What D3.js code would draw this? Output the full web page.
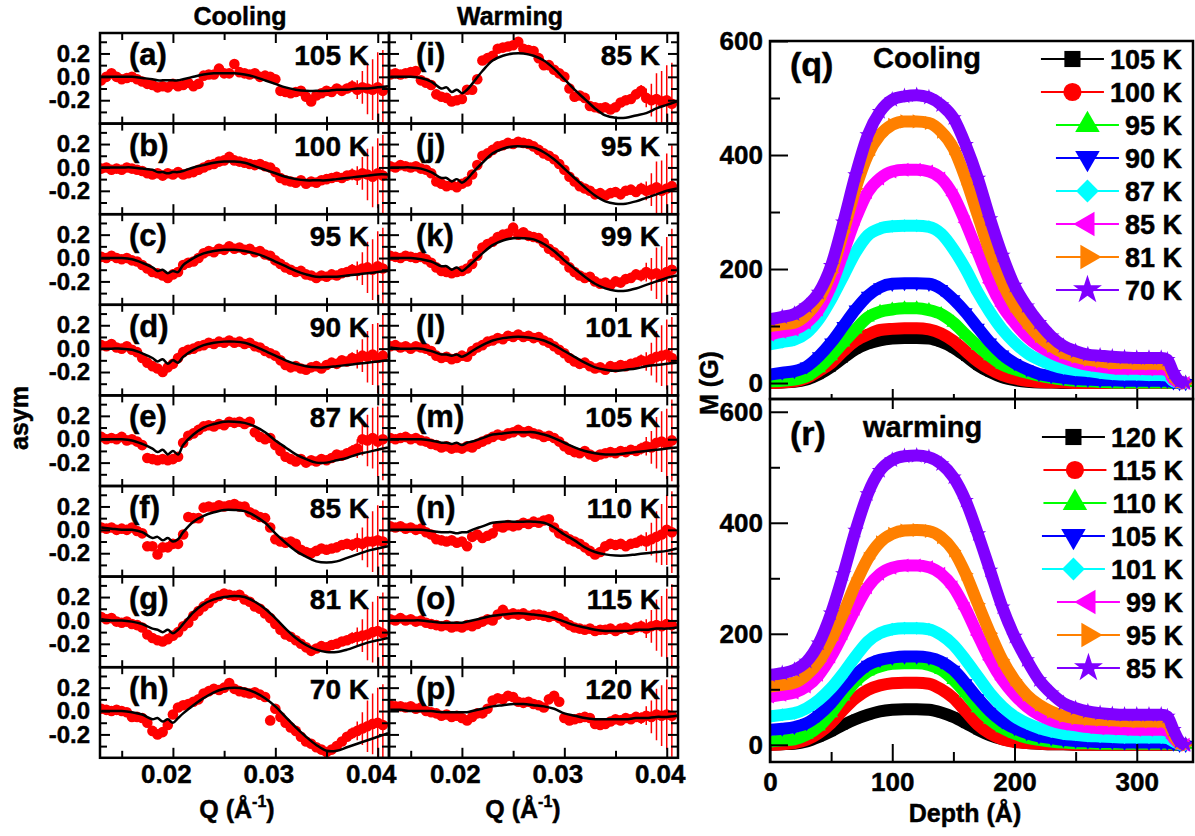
<!DOCTYPE html>
<html>
<head>
<meta charset="utf-8">
<script src="https://cdn.jsdelivr.net/npm/d3@7"></script>
<style>
body { margin: 0; background: #fff; }
svg text { font-family: "Liberation Sans", Arial, sans-serif; font-weight: bold; stroke: #000; stroke-width: 0.45px; }
</style>
</head>
<body>
<script>
// Q grid of the reflectivity points and of the fit curves
var qData = [0.0130,0.0135,0.0140,0.0145,0.0150,0.0155,0.0160,0.0165,0.0170,0.0175,
  0.0180,0.0185,0.0190,0.0195,0.0200,0.0205,0.0210,0.0215,0.0220,0.0225,
  0.0230,0.0235,0.0240,0.0245,0.0250,0.0255,0.0260,0.0265,0.0270,0.0275,
  0.0280,0.0285,0.0290,0.0295,0.0300,0.0305,0.0310,0.0315,0.0320,0.0325,
  0.0330,0.0335,0.0340,0.0345,0.0350,0.0355,0.0360,0.0365,0.0370,0.0375,
  0.0380,0.0385,0.0390,0.0395,0.0400,0.0405];
var qFit = [0.013,0.014,0.015,0.016,0.017,0.018,0.0185,0.019,0.0195,0.020,0.0205,0.021,
  0.022,0.023,0.024,0.025,0.026,0.027,0.028,0.029,0.030,0.031,
  0.032,0.033,0.034,0.035,0.036,0.037,0.038,0.039,0.040,0.041];
var errBar = [0.02,0.02,0.02,0.02,0.02,0.02,0.02,0.02,0.02,0.02,0.02,0.02,0.02,0.02,0.02,0.02,
  0.02,0.02,0.02,0.02,0.02,0.02,0.02,0.02,0.02,0.02,0.02,0.02,0.02,0.02,0.02,0.02,
  0.02,0.02,0.02,0.02,0.02,0.02,0.02,0.02,0.02,0.02,0.02,0.02,0.02,0.02,
  0.03,0.03,0.04,0.05,0.08,0.14,0.22,0.26,0.30,0.35];

// cooling
var asymA = [-0.03,0.00,0.03,0.00,-0.02,-0.01,0.00,-0.02,-0.04, -0.06,-0.07,-0.09,-0.08,-0.09,-0.06,-0.08,-0.07,-0.05,-0.08,-0.06,
  0.01,0.02,0.02,0.07,0.03, 0.03,0.11,0.04,0.03,0.02,0.03,0.00,0.01,0.00,
  -0.02,-0.12,-0.13,-0.14,-0.13,-0.12,-0.17,-0.21,-0.16,-0.14,-0.12, -0.13,-0.10,-0.12,-0.10,-0.08,-0.11,-0.09,-0.10,-0.11,-0.09,-0.12];
var fitA = [0.00,0.00,0.00,0.00,-0.01,-0.02, -0.03,-0.03,-0.03,-0.03,-0.03,-0.02,
  0.00,0.02,0.03,0.03,0.03,0.02,0.00,-0.03,-0.06,-0.09,-0.11,-0.12,-0.12,-0.12,-0.11,-0.11,-0.10,-0.10,-0.09,-0.08];
var asymB = [-0.01,0.00,-0.02,-0.01,-0.02,0.00,-0.01,-0.02,-0.03, -0.05,-0.06,-0.05,-0.07,-0.05,-0.06,-0.04,-0.06,-0.05,-0.04,-0.02,
  0.00,0.02,0.03,0.05,0.06, 0.09,0.06,0.05,0.04,0.03,0.02,0.03,0.01,0.00,
  -0.04,-0.09,-0.11,-0.12,-0.13,-0.11,-0.14,-0.12,-0.13,-0.11,-0.10, -0.09,-0.08,-0.09,-0.07,-0.06,-0.07,-0.05,-0.06,-0.08,-0.05,-0.07];
var fitB = [0.00,0.00,0.00,0.00,-0.01,-0.02, -0.04,-0.04,-0.05,-0.04,-0.04,-0.03,
  0.00,0.02,0.04,0.05,0.05,0.04,0.01,-0.02,-0.05,-0.08,-0.10,-0.11,-0.11,-0.11,-0.10,-0.09,-0.08,-0.07,-0.06,-0.06];
var asymC = [0.01,0.00,0.02,0.00,-0.01,0.00,-0.02,-0.03,-0.06, -0.09,-0.12,-0.13,-0.15,-0.17,-0.14,-0.12,-0.06,-0.04,-0.03,0.00,
  0.04,0.06,0.05,0.08,0.07, 0.10,0.08,0.09,0.07,0.08,0.05,0.06,0.03,0.02,
  -0.02,-0.05,-0.08,-0.10,-0.12,-0.11,-0.14,-0.15,-0.17,-0.15,-0.16, -0.14,-0.15,-0.13,-0.12,-0.10,-0.11,-0.09,-0.08,-0.10,-0.07,-0.09];
var fitC = [0.00,0.00,0.00,-0.01,-0.04,-0.08, -0.11,-0.10,-0.13,-0.11,-0.12,-0.06,
  0.00,0.04,0.06,0.07,0.07,0.06,0.04,0.01,-0.03,-0.07,-0.11,-0.14,-0.16,-0.16,-0.16,-0.15,-0.14,-0.13,-0.12,-0.11];
var asymD = [0.03,0.02,0.04,0.01,0.00,0.02,-0.01,-0.03,-0.08, -0.12,-0.15,-0.17,-0.20,-0.16,-0.13,-0.08,-0.03,-0.01,0.00,0.02,
  0.03,0.05,0.04,0.06,0.05, 0.07,0.05,0.06,0.04,0.05,0.02,0.01,-0.02,-0.04,
  -0.06,-0.10,-0.14,-0.16,-0.15,-0.17,-0.18,-0.16,-0.15,-0.17,-0.14, -0.12,-0.13,-0.10,-0.11,-0.08,-0.09,-0.06,-0.07,-0.05,-0.08,-0.06];
var fitD = [0.00,0.00,0.00,-0.01,-0.04,-0.08, -0.11,-0.09,-0.13,-0.10,-0.12,-0.07,
  -0.01,0.03,0.05,0.06,0.06,0.05,0.02,-0.02,-0.06,-0.10,-0.13,-0.15,-0.16,-0.16,-0.15,-0.14,-0.13,-0.12,-0.11,-0.10];
var asymE = [0.02,0.00,0.01,0.00,0.02,-0.01,0.00,-0.02,-0.05, -0.16,-0.17,-0.18,-0.17,-0.18,-0.17,-0.15,-0.03,0.03,0.05,0.08,
  0.11,0.12,0.11,0.13,0.12, 0.15,0.14,0.15,0.13,0.15,0.06,0.02,0.00,0.01,
  -0.05,-0.10,-0.15,-0.17,-0.19,-0.17,-0.20,-0.18,-0.19,-0.17,-0.18, -0.16,-0.13,-0.14,-0.12,-0.10,-0.08,0.00,-0.01,0.01,-0.02,0.00];
var fitE = [0.00,0.00,0.00,-0.01,-0.04,-0.08, -0.11,-0.09,-0.13,-0.10,-0.13,-0.05,
  0.04,0.10,0.13,0.15,0.15,0.14,0.11,0.06,-0.01,-0.07,-0.13,-0.17,-0.20,-0.20,-0.18,-0.16,-0.13,-0.11,-0.09,-0.07];
var asymF = [0.02,0.01,0.02,0.00,0.01,0.00,0.02,-0.01,-0.03, -0.14,-0.14,-0.21,-0.15,-0.15,-0.12,-0.12,-0.04,0.11,0.10,0.10,
  0.19,0.20,0.19,0.21,0.20, 0.21,0.22,0.20,0.20,0.15,0.13,0.11,0.10,0.02,
  -0.08,-0.10,-0.11,-0.10,-0.12,-0.17,-0.19,-0.20,-0.18,-0.16,-0.17, -0.16,-0.15,-0.13,-0.12,-0.13,-0.11,-0.12,-0.10,-0.10,-0.09,-0.10];
var fitF = [0.02,0.01,0.00,0.00,-0.02,-0.07, -0.06,-0.09,-0.07,-0.10,-0.08,-0.02,
  0.07,0.12,0.15,0.17,0.17,0.16,0.12,0.06,-0.03,-0.11,-0.18,-0.23,-0.27,-0.28,-0.27,-0.24,-0.21,-0.18,-0.16,-0.14];
var asymG = [0.03,0.01,0.02,-0.01,-0.02,-0.01,-0.03,-0.04,-0.06, -0.12,-0.15,-0.17,-0.18,-0.16,-0.13,-0.10,-0.05,-0.02,0.04,0.08,
  0.12,0.15,0.19,0.21,0.23, 0.22,0.21,0.22,0.18,0.16,0.12,0.10,0.06,0.02,
  -0.03,-0.08,-0.12,-0.14,-0.17,-0.20,-0.23,-0.26,-0.24,-0.22,-0.23, -0.21,-0.20,-0.18,-0.17,-0.15,-0.14,-0.13,-0.12,-0.10,-0.09,-0.11];
var fitG = [0.01,0.00,0.00,-0.01,-0.03,-0.07, -0.08,-0.10,-0.08,-0.11,-0.08,-0.03,
  0.07,0.14,0.18,0.20,0.21,0.20,0.16,0.10,0.02,-0.07,-0.15,-0.21,-0.25,-0.27,-0.27,-0.25,-0.22,-0.19,-0.17,-0.15];
var asymH = [0.02,0.01,0.00,0.01,0.00,-0.01,-0.05,-0.05,-0.06, -0.10,-0.17,-0.20,-0.18,-0.12,-0.03,0.03,0.05,0.06,0.08,0.10,
  0.15,0.17,0.19,0.18,0.20, 0.24,0.19,0.17,0.16,0.15,0.16,0.14,0.12,-0.08,
  0.02,-0.05,-0.10,-0.14,-0.17,-0.22,-0.26,-0.28,-0.31,-0.33,-0.35, -0.33,-0.30,-0.26,-0.22,-0.19,-0.17,-0.15,-0.13,-0.11,-0.10,-0.12];
var fitH = [0.00,0.00,0.00,-0.01,-0.03,-0.07, -0.06,-0.09,-0.07,-0.10,-0.06,-0.02,
  0.05,0.11,0.16,0.19,0.20,0.19,0.16,0.11,0.04,-0.05,-0.14,-0.22,-0.29,-0.34,-0.34,-0.31,-0.28,-0.25,-0.22,-0.19];

// warming
var asymI = [0.02,0.03,0.02,0.03,0.04,0.05,-0.03,-0.05,-0.07, -0.15,-0.17,-0.18,-0.21,-0.20,-0.19,-0.11,-0.11,-0.02,0.14,0.16,
  0.18,0.24,0.25,0.26,0.27, 0.30,0.24,0.23,0.22,0.16,0.10,0.10,0.06,0.03,
  0.00,-0.10,-0.17,-0.16,-0.18,-0.25,-0.26,-0.27,-0.26,-0.28,-0.26, -0.22,-0.20,-0.19,-0.15,-0.12,-0.18,-0.20,-0.19,-0.21,-0.20,-0.23];
var fitI = [0.00,0.00,0.00,-0.01,-0.04,-0.10, -0.09,-0.13,-0.11,-0.14,-0.11,-0.06,
  0.05,0.14,0.18,0.20,0.20,0.18,0.14,0.07,-0.02,-0.11,-0.19,-0.27,-0.33,-0.35,-0.35,-0.33,-0.31,-0.27,-0.24,-0.21];
var asymJ = [0.01,0.00,0.02,0.01,0.00,0.01,-0.01,-0.02,-0.05, -0.12,-0.14,-0.16,-0.15,-0.17,-0.14,-0.12,-0.06,0.02,0.10,0.12,
  0.15,0.18,0.19,0.21,0.20, 0.22,0.21,0.20,0.18,0.15,0.12,0.10,0.07,0.03,
  -0.02,-0.08,-0.12,-0.16,-0.18,-0.20,-0.23,-0.22,-0.24,-0.22,-0.21, -0.23,-0.20,-0.19,-0.21,-0.18,-0.20,-0.19,-0.17,-0.20,-0.18,-0.16];
var fitJ = [0.00,0.00,0.00,-0.01,-0.04,-0.09, -0.09,-0.12,-0.10,-0.13,-0.10,-0.05,
  0.04,0.12,0.16,0.18,0.18,0.17,0.13,0.07,-0.01,-0.09,-0.17,-0.24,-0.29,-0.31,-0.31,-0.29,-0.26,-0.23,-0.20,-0.18];
var asymK = [0.02,0.01,0.00,0.02,0.01,0.00,0.01,-0.01,-0.04, -0.08,-0.11,-0.12,-0.13,-0.12,-0.11,-0.09,-0.05,0.02,0.09,0.12,
  0.14,0.18,0.20,0.21,0.26, 0.20,0.22,0.19,0.18,0.17,0.13,0.08,0.05,0.02,
  -0.02,-0.08,-0.12,-0.15,-0.17,-0.16,-0.20,-0.22,-0.21,-0.23,-0.20, -0.21,-0.18,-0.17,-0.14,-0.15,-0.12,-0.14,-0.13,-0.16,-0.12,-0.10];
var fitK = [0.00,0.00,0.00,-0.01,-0.03,-0.07, -0.07,-0.10,-0.08,-0.11,-0.08,-0.04,
  0.04,0.11,0.15,0.17,0.17,0.16,0.12,0.06,-0.02,-0.09,-0.16,-0.22,-0.26,-0.28,-0.28,-0.26,-0.23,-0.20,-0.17,-0.15];
var asymL = [0.02,0.03,0.01,0.02,0.00,0.02,0.01,0.00,-0.02, -0.06,-0.08,-0.07,-0.09,-0.08,-0.06,-0.07,-0.02,0.01,0.03,0.06,
  0.07,0.09,0.08,0.11,0.10, 0.12,0.10,0.11,0.09,0.10,0.07,0.05,0.02,-0.01,
  -0.04,-0.08,-0.11,-0.13,-0.12,-0.15,-0.17,-0.16,-0.18,-0.15,-0.16, -0.14,-0.15,-0.13,-0.12,-0.10,-0.11,-0.09,-0.07,-0.06,-0.05,-0.08];
var fitL = [0.01,0.00,0.00,0.00,-0.02,-0.05, -0.05,-0.06,-0.05,-0.07,-0.05,-0.02,
  0.03,0.07,0.09,0.10,0.10,0.09,0.07,0.03,-0.02,-0.07,-0.12,-0.16,-0.18,-0.19,-0.18,-0.17,-0.15,-0.14,-0.13,-0.12];
var asymM = [0.01,0.00,0.01,0.02,0.00,0.01,-0.01,-0.02,-0.04, -0.05,-0.07,-0.06,-0.08,-0.07,-0.08,-0.06,-0.07,-0.04,-0.02,0.00,
  0.02,0.04,0.03,0.05,0.06, 0.08,0.06,0.07,0.05,0.04,0.02,0.03,0.01,-0.02,
  -0.06,-0.09,-0.11,-0.12,-0.10,-0.13,-0.15,-0.13,-0.12,-0.11,-0.12, -0.10,-0.11,-0.09,-0.10,-0.08,-0.06,-0.07,-0.03,-0.02,-0.04,-0.01];
var fitM = [0.00,0.00,0.00,0.00,-0.01,-0.03, -0.03,-0.04,-0.03,-0.05,-0.03,-0.02,
  0.01,0.04,0.05,0.06,0.06,0.06,0.04,0.01,-0.03,-0.07,-0.10,-0.12,-0.13,-0.13,-0.12,-0.11,-0.10,-0.09,-0.08,-0.07];
var asymN = [0.03,0.02,0.03,0.01,0.02,0.00,0.01,-0.02,-0.04, -0.08,-0.09,-0.10,-0.09,-0.11,-0.10,-0.14,-0.06,-0.04,-0.07,-0.05,
  -0.03,0.03,0.02,0.04,0.03, 0.04,0.06,0.05,0.07,0.06,0.08,0.09,0.02,-0.03,
  -0.05,-0.08,-0.10,-0.12,-0.15,-0.18,-0.21,-0.19,-0.14,-0.12,-0.13, -0.12,-0.14,-0.12,-0.11,-0.09,-0.10,-0.08,-0.06,-0.04,0.00,-0.02];
var fitN = [0.00,0.00,0.00,0.00,-0.01,-0.02, -0.02,-0.02,-0.03,-0.02,-0.02,0.00,
  0.03,0.06,0.07,0.07,0.07,0.07,0.06,0.02,-0.04,-0.09,-0.15,-0.19,-0.21,-0.22,-0.22,-0.21,-0.20,-0.19,-0.18,-0.16];
var asymO = [0.01,0.00,0.02,0.00,0.01,-0.01,0.00,-0.02,-0.03, -0.04,-0.05,-0.04,-0.06,-0.05,-0.06,-0.04,-0.05,-0.03,-0.01,0.01,
  0.00,0.05,0.09,0.05,0.06, 0.05,0.06,0.04,0.05,0.05,0.04,0.03,0.04,0.02,
  -0.01,-0.04,-0.06,-0.07,-0.08,-0.07,-0.09,-0.08,-0.08,-0.07,-0.09, -0.07,-0.06,-0.08,-0.06,-0.05,-0.07,-0.05,-0.04,-0.05,-0.03,-0.04];
var fitO = [0.00,0.00,0.00,0.00,-0.01,-0.02, -0.02,-0.02,-0.02,-0.02,-0.01,0.00,
  0.02,0.04,0.05,0.06,0.06,0.05,0.04,0.02,-0.01,-0.04,-0.06,-0.08,-0.09,-0.09,-0.09,-0.08,-0.08,-0.07,-0.07,-0.06];
var asymP = [0.05,0.04,0.04,0.03,0.04,0.02,0.03,0.00,-0.01, -0.02,-0.04,-0.03,-0.05,-0.04,-0.06,-0.08,-0.05,-0.02,-0.02,0.02,
  0.09,0.11,0.10,0.13,0.12, 0.08,0.07,0.08,0.06,0.05,0.03,0.10,0.13,0.08,
  -0.06,-0.08,-0.07,-0.06,-0.05,-0.06,-0.11,-0.12,-0.11,-0.09,-0.07, -0.08,-0.06,-0.07,-0.05,-0.06,-0.04,-0.05,-0.03,-0.04,-0.03,-0.04];
var fitP = [0.01,0.01,0.00,0.00,0.00,-0.01, -0.01,-0.01,-0.01,-0.01,-0.01,0.00,
  0.02,0.04,0.05,0.06,0.06,0.05,0.04,0.02,-0.02,-0.04,-0.06,-0.07,-0.07,-0.07,-0.07,-0.06,-0.06,-0.05,-0.05,-0.04];

var coolTemps = ["105 K", "100 K", "95 K", "90 K", "87 K", "85 K", "81 K", "70 K"];
var warmTemps = ["85 K", "95 K", "99 K", "101 K", "105 K", "110 K", "115 K", "120 K"];

// magnetisation depth profiles
var depth = [0,10,20,30,40,50,60,70,80,90,100,110,120,130,140,150,160,170,180,190,
  200,210,220,230,240,250,260,270,280,290,300,310,320,325,330,335,340];
var mC105 = [0,1,2,6,15,28,44,59,69,75,78,79,79,78,72,62,47,31,19,10,5,2,1,1,0,0,0,0,0,0,0,0,0,0,0,0,0];
var mC100 = [0,1,3,9,21,35,56,74,85,93,95,96,96,94,87,74,56,38,24,14,8,4,2,1,1,0,0,0,0,0,0,0,0,0,0,0,0];
var mC95 = [3,4,6,12,26,47,71,94,115,125,129,131,131,128,121,106,85,65,47,32,24,18,13,9,6,4,3,2,1,1,1,1,1,1,0,0,0];
var mC90 = [15,18,21,29,47,71,100,129,153,168,174,175,175,174,165,147,124,97,71,50,35,24,16,12,9,7,6,5,5,4,4,4,4,4,1,0,0];
var mC87 = [68,72,76,88,112,147,188,229,259,271,275,276,276,274,262,235,200,159,124,94,71,53,41,32,26,23,21,18,16,15,15,14,14,13,3,1,0];
var mC85 = [85,90,94,106,129,171,229,288,335,359,371,374,374,371,359,329,282,229,176,135,106,82,65,53,44,37,32,29,26,25,25,24,24,23,6,1,0];
var mC81 = [100,103,106,120,147,194,265,341,400,435,453,459,459,456,441,412,359,294,229,176,135,106,82,65,53,46,41,38,35,35,34,34,34,33,12,2,0];
var mC70 = [112,116,121,135,159,206,282,365,435,476,497,503,505,501,488,465,418,359,288,224,171,135,106,82,65,56,50,48,46,45,44,44,44,41,18,3,0];
var mW120 = [0,1,2,6,14,24,36,46,54,60,63,64,64,63,58,50,39,27,17,10,6,3,2,1,1,0,0,0,0,0,0,0,0,0,0,0,0];
var mW115 = [0,1,3,9,21,39,63,84,99,107,111,112,112,110,100,84,60,36,20,10,5,3,2,1,1,0,0,0,0,0,0,0,0,0,0,0,0];
var mW110 = [6,8,10,18,33,57,87,114,132,141,146,147,147,144,135,117,93,66,45,30,20,13,9,6,4,3,3,2,2,2,2,2,2,2,1,0,0];
var mW105 = [27,29,32,39,54,75,102,126,144,153,157,159,159,157,150,135,111,84,60,42,30,21,15,12,9,7,6,5,5,4,4,4,4,4,2,0,0];
var mW101 = [51,54,57,66,81,102,129,159,186,201,208,210,210,208,198,180,153,123,93,69,51,39,30,24,20,18,16,15,14,13,13,13,13,12,6,1,0];
var mW99 = [87,90,94,105,126,159,201,245,284,308,319,323,323,320,308,284,245,198,153,117,90,69,54,44,38,35,32,30,29,28,27,27,27,26,12,2,0];
var mW95 = [105,108,112,126,150,189,237,290,335,365,380,386,387,385,374,350,308,254,201,153,117,90,72,60,52,48,46,45,44,43,42,42,42,41,18,3,0];
var mW85 = [126,129,135,150,183,237,308,386,452,494,513,520,521,518,506,482,440,380,314,248,195,153,117,93,75,66,60,57,55,54,54,54,54,51,27,6,0];

var coolLegend = ["105 K", "100 K", "95 K", "90 K", "87 K", "85 K", "81 K", "70 K"];
var warmLegend = ["120 K", "115 K", "110 K", "105 K", "101 K", "99 K", "95 K", "85 K"];

var colors = ["#000000", "#ff0000", "#00ff00", "#0000ff", "#00ffff", "#ff00ff", "#ff8000", "#8000ff"];
var symbols = [
    {type: d3.symbolSquare, rot: 0},
    {type: d3.symbolCircle, rot: 0},
    {type: d3.symbolTriangle, rot: 0},
    {type: d3.symbolTriangle, rot: 180},
    {type: d3.symbolSquare, rot: 45},
    {type: d3.symbolTriangle, rot: -90},
    {type: d3.symbolTriangle, rot: 90},
    {type: d3.symbolStar, rot: 0}
];

var width = 1195, height = 836;

var svg = d3.select("body").append("svg")
    .attr("width", width)
    .attr("height", height);

function cleanAxis(g, size) {
    g.select(".domain").remove();
    g.selectAll("line").attr("stroke", "#000").attr("stroke-width", 2);
    g.attr("font-size", size).attr("fill", "#000");
    g.selectAll("text").attr("fill", "#000");
}

// ---------- left: reflectivity asymmetry panels ----------
var colX = [[100, 389], [389, 678]];
var panelTop = 33, panelH = 90.6;

var coolPanels = [
    {tag: "(a)", data: asymA, fit: fitA}, {tag: "(b)", data: asymB, fit: fitB},
    {tag: "(c)", data: asymC, fit: fitC}, {tag: "(d)", data: asymD, fit: fitD},
    {tag: "(e)", data: asymE, fit: fitE}, {tag: "(f)", data: asymF, fit: fitF},
    {tag: "(g)", data: asymG, fit: fitG}, {tag: "(h)", data: asymH, fit: fitH}
];
var warmPanels = [
    {tag: "(i)", data: asymI, fit: fitI}, {tag: "(j)", data: asymJ, fit: fitJ},
    {tag: "(k)", data: asymK, fit: fitK}, {tag: "(l)", data: asymL, fit: fitL},
    {tag: "(m)", data: asymM, fit: fitM}, {tag: "(n)", data: asymN, fit: fitN},
    {tag: "(o)", data: asymO, fit: fitO}, {tag: "(p)", data: asymP, fit: fitP}
];

function drawPanel(col, row, p, temp) {
    var left = colX[col][0], right = colX[col][1];
    var top = panelTop + row * panelH, bottom = top + panelH;
    var x = d3.scaleLinear().domain([0.01288, 0.0411]).range([left, right]);
    var y = d3.scaleLinear().domain([-0.40, 0.375]).range([bottom, top]);
    var id = "clip" + col + "_" + row;

    svg.append("clipPath").attr("id", id)
        .append("rect").attr("x", left).attr("y", top)
        .attr("width", right - left).attr("height", panelH);

    var g = svg.append("g").attr("clip-path", "url(#" + id + ")");

    var pts = p.data.map(function (v, i) { return {q: qData[i], v: v, e: errBar[i]}; });

    g.selectAll("line.err").data(pts).enter().append("line")
        .attr("class", "err")
        .attr("x1", function (d) { return x(d.q); })
        .attr("x2", function (d) { return x(d.q); })
        .attr("y1", function (d) { return y(d.v - d.e); })
        .attr("y2", function (d) { return y(d.v + d.e); })
        .attr("stroke", "#ff0000")
        .attr("stroke-width", 1.5);

    g.selectAll("circle").data(pts).enter().append("circle")
        .attr("cx", function (d) { return x(d.q); })
        .attr("cy", function (d) { return y(d.v); })
        .attr("r", 5.3)
        .attr("fill", "#ff0000");

    var fitPts = p.fit.map(function (v, i) { return [qFit[i], v]; });
    g.append("path")
        .attr("d", d3.line()
            .x(function (d) { return x(d[0]); })
            .y(function (d) { return y(d[1]); })
            .curve(d3.curveCatmullRom)(fitPts))
        .attr("fill", "none")
        .attr("stroke", "#000")
        .attr("stroke-width", 2.5);

    // inward ticks on all four sides
    var yMajor = [-0.2, 0, 0.2], yMinor = [-0.3, -0.1, 0.1, 0.3];
    var xMajor = [0.02, 0.03, 0.04], xMinor = [0.015, 0.025, 0.035];

    var gl = svg.append("g").attr("transform", "translate(" + left + ",0)")
        .call(d3.axisLeft(y).tickValues(yMajor).tickSize(-10).tickPadding(10)
            .tickFormat(function (d) { return col === 0 ? d.toFixed(1) : ""; }));
    cleanAxis(gl, 24);
    cleanAxis(svg.append("g").attr("transform", "translate(" + left + ",0)")
        .call(d3.axisLeft(y).tickValues(yMinor).tickSize(-7).tickFormat("")), 24);
    cleanAxis(svg.append("g").attr("transform", "translate(" + right + ",0)")
        .call(d3.axisRight(y).tickValues(yMajor).tickSize(-10).tickFormat("")), 24);
    cleanAxis(svg.append("g").attr("transform", "translate(" + right + ",0)")
        .call(d3.axisRight(y).tickValues(yMinor).tickSize(-7).tickFormat("")), 24);

    var gb = svg.append("g").attr("transform", "translate(0," + bottom + ")")
        .call(d3.axisBottom(x).tickValues(xMajor).tickSize(-10).tickPadding(7)
            .tickFormat(function (d) { return row === 7 ? d.toFixed(2) : ""; }));
    cleanAxis(gb, 26);
    gb.selectAll("text").attr("dx", -7);
    cleanAxis(svg.append("g").attr("transform", "translate(0," + bottom + ")")
        .call(d3.axisBottom(x).tickValues(xMinor).tickSize(-7).tickFormat("")), 25);
    cleanAxis(svg.append("g").attr("transform", "translate(0," + top + ")")
        .call(d3.axisTop(x).tickValues(xMajor).tickSize(-10).tickFormat("")), 25);
    cleanAxis(svg.append("g").attr("transform", "translate(0," + top + ")")
        .call(d3.axisTop(x).tickValues(xMinor).tickSize(-7).tickFormat("")), 25);

    svg.append("rect")
        .attr("x", left).attr("y", top)
        .attr("width", right - left).attr("height", panelH)
        .attr("fill", "none").attr("stroke", "#000").attr("stroke-width", 2.5);

    svg.append("text")
        .attr("x", left + (col === 0 ? 29 : 27)).attr("y", top + 32)
        .attr("font-size", 31)
        .text(p.tag);
    svg.append("text")
        .attr("x", col === 0 ? 369 : 660).attr("y", top + 32)
        .attr("text-anchor", "end")
        .attr("font-size", 28)
        .text(temp);
}

coolPanels.forEach(function (p, i) { drawPanel(0, i, p, coolTemps[i]); });
warmPanels.forEach(function (p, i) { drawPanel(1, i, p, warmTemps[i]); });

svg.append("text").attr("x", 240).attr("y", 25).attr("text-anchor", "middle")
    .attr("font-size", 25).text("Cooling");
svg.append("text").attr("x", 510).attr("y", 25).attr("text-anchor", "middle")
    .attr("font-size", 25).text("Warming");
svg.append("text").attr("transform", "translate(28,418) rotate(-90)")
    .attr("text-anchor", "middle").attr("font-size", 25).text("asym");

[237, 523].forEach(function (cx) {
    var t = svg.append("text").attr("x", cx).attr("y", 818)
        .attr("text-anchor", "middle").attr("font-size", 25);
    t.append("tspan").text("Q (Å");
    t.append("tspan").attr("font-size", 16).attr("dy", -11).text("-1");
    t.append("tspan").attr("dy", 11).text(")");
});

// ---------- right: magnetisation depth profiles ----------
var rLeft = 770, rRight = 1193;
var xD = d3.scaleLinear().domain([0, 346]).range([rLeft, rRight]);

var profiles = [
    {top: 41, bottom: 399, domain: [-28, 600], tag: "(q)", title: "Cooling", tagY: 76, titleX: 873, titleY: 68,
     series: [mC105, mC100, mC95, mC90, mC87, mC85, mC81, mC70], legend: coolLegend, legY: 59, legX: 1182},
    {top: 399, bottom: 762, domain: [-31, 623], tag: "(r)", title: "warming", tagY: 445, titleX: 863, titleY: 437,
     series: [mW120, mW115, mW110, mW105, mW101, mW99, mW95, mW85], legend: warmLegend, legY: 437, legX: 1183}
];

function symbolPath(k, size) {
    return d3.symbol().type(symbols[k].type).size(size)();
}

profiles.forEach(function (pr, pi) {
    var yM = d3.scaleLinear().domain(pr.domain).range([pr.bottom, pr.top]);
    var id = "clipR" + pi;
    svg.append("clipPath").attr("id", id)
        .append("rect").attr("x", rLeft).attr("y", pr.top)
        .attr("width", rRight - rLeft).attr("height", pr.bottom - pr.top);
    var g = svg.append("g").attr("clip-path", "url(#" + id + ")");

    var line = d3.line()
        .x(function (d, i) { return xD(depth[i]); })
        .y(function (d) { return yM(d); })
        .curve(d3.curveMonotoneX);

    pr.series.forEach(function (s, k) {
        g.append("path")
            .attr("d", line(s))
            .attr("fill", "none")
            .attr("stroke", colors[k])
            .attr("stroke-width", 12)
            .attr("stroke-linejoin", "round");
        g.selectAll("path.m" + k).data(s).enter().append("path")
            .attr("class", "m" + k)
            .attr("d", symbolPath(k, 85))
            .attr("fill", colors[k])
            .attr("transform", function (d, i) {
                return "translate(" + xD(depth[i]) + "," + yM(d) + ") rotate(" + symbols[k].rot + ")";
            });
    });

    var gl = svg.append("g").attr("transform", "translate(" + rLeft + ",0)")
        .call(d3.axisLeft(yM).tickValues([0, 200, 400, 600]).tickSize(-18).tickPadding(7)
            .tickFormat(d3.format("d")));
    cleanAxis(gl, 26);
    cleanAxis(svg.append("g").attr("transform", "translate(" + rLeft + ",0)")
        .call(d3.axisLeft(yM).tickValues([100, 300, 500]).tickSize(-10).tickFormat("")), 26);

    if (pi === 0) {
        cleanAxis(svg.append("g").attr("transform", "translate(0," + pr.bottom + ")")
            .call(d3.axisBottom(xD).tickValues([100, 200, 300]).tickSize(-10).tickFormat("")), 26);
        cleanAxis(svg.append("g").attr("transform", "translate(0," + pr.bottom + ")")
            .call(d3.axisBottom(xD).tickValues([50, 150, 250]).tickSize(-5).tickFormat("")), 26);
    } else {
        cleanAxis(svg.append("g").attr("transform", "translate(0," + pr.top + ")")
            .call(d3.axisTop(xD).tickValues([100, 200, 300]).tickSize(-10).tickFormat("")), 26);
        var gb = svg.append("g").attr("transform", "translate(0," + pr.bottom + ")")
            .call(d3.axisBottom(xD).tickValues([0, 100, 200, 300]).tickSize(-18).tickPadding(11)
                .tickFormat(d3.format("d")));
        cleanAxis(gb, 26);
        cleanAxis(svg.append("g").attr("transform", "translate(0," + pr.bottom + ")")
            .call(d3.axisBottom(xD).tickValues([50, 150, 250]).tickSize(-10).tickFormat("")), 26);
    }

    svg.append("rect")
        .attr("x", rLeft).attr("y", pr.top)
        .attr("width", rRight - rLeft).attr("height", pr.bottom - pr.top)
        .attr("fill", "none").attr("stroke", "#000").attr("stroke-width", 2.5);

    svg.append("text").attr("x", 790).attr("y", pr.tagY).attr("font-size", 34).text(pr.tag);
    svg.append("text").attr("x", pr.titleX).attr("y", pr.titleY).attr("font-size", 29).text(pr.title);

    // legend
    pr.legend.forEach(function (lab, k) {
        var ry = pr.legY + k * 33;
        var t = svg.append("text")
            .attr("x", pr.legX).attr("y", ry + 9.5)
            .attr("text-anchor", "end")
            .attr("font-size", 27)
            .text(lab);
        var tx = pr.legX - t.node().getComputedTextLength();
        var x2 = tx - 6, x1 = x2 - 63;
        svg.append("line")
            .attr("x1", x1).attr("x2", x2).attr("y1", ry).attr("y2", ry)
            .attr("stroke", colors[k]).attr("stroke-width", 2);
        svg.append("path")
            .attr("d", symbolPath(k, 260))
            .attr("fill", colors[k])
            .attr("transform", "translate(" + ((x1 + x2) / 2) + "," + ry + ") rotate(" + symbols[k].rot + ")");
    });
});

svg.append("text").attr("x", 965).attr("y", 822).attr("text-anchor", "middle")
    .attr("font-size", 25).text("Depth (Å)");
svg.append("text").attr("transform", "translate(718,383) rotate(-90)")
    .attr("text-anchor", "middle").attr("font-size", 25).text("M (G)");
</script>
</body>
</html>
